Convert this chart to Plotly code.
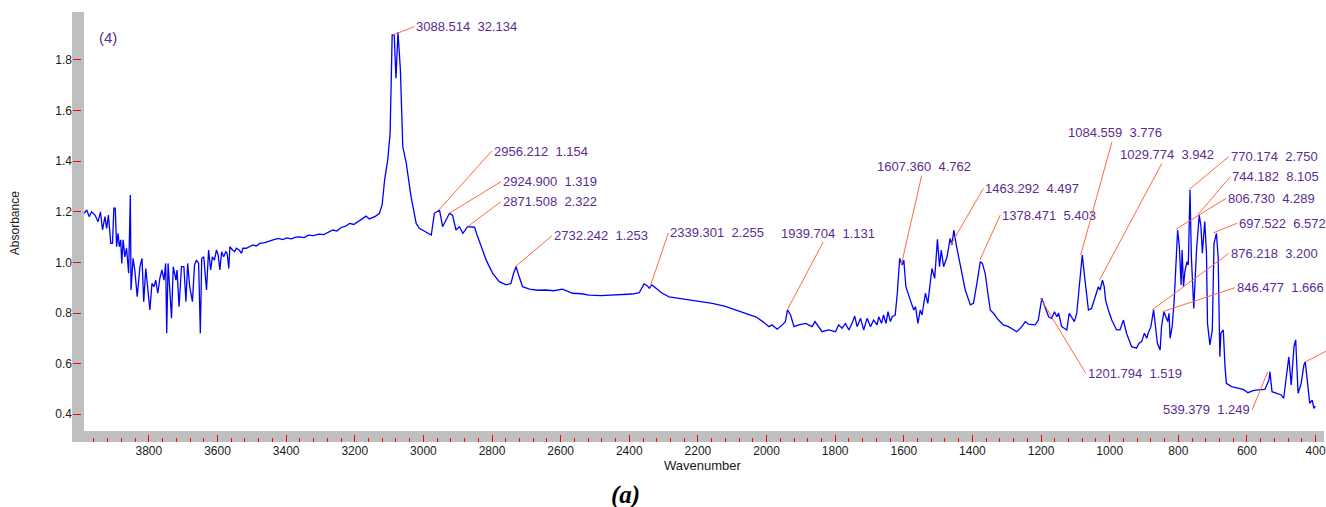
import plotly.graph_objects as go

# ---------------- data ----------------
wavenumber = [
    3989, 3981, 3974, 3967, 3957, 3948, 3941, 3935, 3928, 3923, 3918, 3911, 3906, 3902, 3898,
    3894, 3890, 3886, 3882, 3879, 3875, 3870, 3865, 3859, 3854, 3852, 3846, 3841, 3834, 3826,
    3820, 3815, 3809, 3803, 3797, 3791, 3785, 3780, 3774, 3768, 3762, 3756, 3751, 3748, 3744,
    3739, 3734, 3729, 3721, 3718, 3712, 3705, 3698, 3692, 3687, 3681, 3673, 3667, 3661, 3655,
    3650, 3646, 3640, 3632, 3626, 3620, 3615, 3609, 3603, 3598, 3593, 3588, 3582, 3576, 3572,
    3567, 3564, 3556, 3550, 3545, 3537, 3530, 3526, 3516, 3506, 3497, 3487, 3477, 3462, 3448,
    3438, 3422, 3410, 3398, 3385, 3372, 3361, 3348, 3335, 3320, 3305, 3290, 3275, 3264, 3252,
    3240, 3228, 3215, 3203, 3192, 3180, 3167, 3158, 3151, 3140, 3128, 3120, 3113, 3104, 3097,
    3091, 3085, 3080, 3074, 3067, 3060, 3050, 3036, 3021, 3012, 2992, 2977, 2968, 2961, 2953,
    2944, 2934, 2924, 2915, 2905, 2895, 2885, 2871, 2851, 2842, 2827, 2817, 2798, 2779, 2759,
    2745, 2737, 2730, 2721, 2711, 2691, 2667, 2643, 2620, 2595, 2565, 2540, 2517, 2483, 2449,
    2420, 2391, 2371, 2357, 2347, 2342, 2334, 2323, 2304, 2284, 2255, 2220, 2190, 2158, 2120,
    2090, 2061, 2030, 2010, 1993, 1984, 1969, 1954, 1945, 1939, 1930, 1920, 1906, 1886, 1867,
    1859, 1848, 1838, 1819, 1799, 1790, 1780, 1770, 1760, 1751, 1743, 1736, 1726, 1717, 1707,
    1697, 1688, 1678, 1673, 1665, 1659, 1652, 1646, 1639, 1634, 1625, 1619, 1612, 1605, 1600,
    1594, 1581, 1571, 1566, 1559, 1552, 1547, 1537, 1530, 1518, 1510, 1502, 1496, 1491, 1484,
    1474, 1465, 1460, 1454, 1448, 1440, 1431, 1421, 1406, 1397, 1387, 1377, 1371, 1363, 1355,
    1348, 1339, 1324, 1310, 1295, 1271, 1256, 1246, 1237, 1217, 1208, 1198, 1188, 1178, 1169,
    1161, 1154, 1149, 1140, 1125, 1118, 1111, 1103, 1096, 1086, 1080, 1072, 1062, 1053, 1043,
    1033, 1028, 1021, 1016, 1012, 1004, 994, 980, 970, 960, 951, 936, 922, 915, 907,
    899, 892, 888, 880, 872, 866, 861, 853, 849, 842, 836, 831, 827, 824, 818,
    812, 802, 797, 792, 789, 785, 781, 775, 771, 766, 762, 755, 747, 739, 734,
    730, 723, 718, 715, 708, 701, 696, 689, 684, 679, 676, 669, 664, 660, 645,
    626, 611, 597, 582, 568, 548, 536, 533, 527, 514, 500, 493, 485, 478, 471,
    463, 458, 451, 442, 434, 430, 424, 417, 410, 405, 401,
]
absorbance = [
    1.194, 1.207, 1.181, 1.200, 1.187, 1.161, 1.200, 1.128, 1.181, 1.134, 1.187, 1.075, 1.075, 1.214, 1.214,
    1.062, 1.115, 1.062, 1.089, 0.996, 1.089, 1.022, 1.056, 0.957, 1.266, 0.891, 1.016, 0.970, 0.864, 0.983,
    1.016, 0.845, 0.976, 0.904, 0.812, 0.917, 0.904, 0.930, 0.878, 0.937, 0.970, 0.930, 0.996, 0.720, 0.996,
    0.891, 0.779, 0.983, 0.930, 0.970, 0.825, 0.983, 0.983, 0.845, 0.996, 0.904, 0.845, 0.990, 1.009, 0.996,
    0.720, 1.016, 1.022, 0.891, 1.049, 0.970, 1.022, 1.009, 1.049, 1.029, 0.970, 1.042, 1.022, 1.042, 1.036,
    0.976, 1.062, 1.049, 1.042, 1.056, 1.049, 1.036, 1.056, 1.056, 1.062, 1.069, 1.065, 1.075, 1.078, 1.086,
    1.089, 1.095, 1.090, 1.097, 1.093, 1.100, 1.101, 1.098, 1.108, 1.106, 1.112, 1.110, 1.120, 1.128, 1.124,
    1.138, 1.142, 1.154, 1.150, 1.160, 1.168, 1.183, 1.172, 1.175, 1.182, 1.194, 1.230, 1.326, 1.405, 1.510,
    1.899, 1.899, 1.728, 1.910, 1.760, 1.457, 1.392, 1.260, 1.154, 1.135, 1.121, 1.108, 1.194, 1.200, 1.207,
    1.141, 1.168, 1.194, 1.187, 1.128, 1.141, 1.115, 1.141, 1.139, 1.102, 1.049, 1.009, 0.957, 0.924, 0.911,
    0.917, 0.957, 0.983, 0.944, 0.904, 0.894, 0.890, 0.891, 0.888, 0.894, 0.878, 0.876, 0.871, 0.869, 0.871,
    0.873, 0.875, 0.880, 0.915, 0.907, 0.898, 0.911, 0.898, 0.878, 0.864, 0.858, 0.852, 0.845, 0.838, 0.826,
    0.812, 0.799, 0.784, 0.765, 0.746, 0.753, 0.736, 0.753, 0.766, 0.812, 0.792, 0.746, 0.753, 0.759, 0.746,
    0.766, 0.746, 0.726, 0.733, 0.726, 0.753, 0.740, 0.759, 0.733, 0.759, 0.788, 0.746, 0.779, 0.733, 0.779,
    0.746, 0.772, 0.753, 0.785, 0.759, 0.792, 0.759, 0.805, 0.766, 0.785, 0.792, 0.878, 1.016, 0.990, 1.009,
    0.904, 0.851, 0.812, 0.825, 0.759, 0.812, 0.792, 0.878, 0.838, 0.976, 0.937, 1.091, 0.983, 1.049, 0.983,
    1.022, 1.095, 1.069, 1.128, 1.075, 1.022, 0.957, 0.891, 0.832, 0.838, 0.917, 1.003, 0.996, 0.957, 0.878,
    0.812, 0.799, 0.772, 0.753, 0.746, 0.726, 0.746, 0.766, 0.756, 0.753, 0.772, 0.858, 0.825, 0.785, 0.779,
    0.805, 0.785, 0.800, 0.746, 0.733, 0.799, 0.785, 0.766, 0.799, 0.957, 1.029, 0.930, 0.812, 0.818, 0.864,
    0.904, 0.891, 0.930, 0.904, 0.851, 0.812, 0.772, 0.733, 0.733, 0.772, 0.720, 0.667, 0.661, 0.680, 0.687,
    0.720, 0.700, 0.720, 0.746, 0.812, 0.746, 0.680, 0.654, 0.746, 0.805, 0.785, 0.766, 0.799, 0.700, 0.746,
    0.851, 1.128, 1.062, 0.911, 1.049, 0.904, 0.963, 1.003, 0.990, 1.286, 1.022, 0.818, 1.049, 1.187, 1.141,
    1.036, 1.161, 1.036, 0.759, 0.674, 0.733, 1.075, 1.115, 1.022, 0.627, 0.720, 0.733, 0.588, 0.522, 0.509,
    0.502, 0.498, 0.485, 0.493, 0.496, 0.498, 0.535, 0.568, 0.489, 0.483, 0.476, 0.463, 0.549, 0.627, 0.516,
    0.667, 0.694, 0.483, 0.522, 0.595, 0.607, 0.535, 0.443, 0.456, 0.423, 0.432,
]

# peak labels
peak_wn = [3088.514, 2956.212, 2924.900, 2871.508, 2732.242, 2339.301, 1939.704, 1607.360,
           1463.292, 1378.471, 1201.794, 1084.559, 1029.774, 876.218, 846.477, 806.730,
           770.174, 744.182, 697.522, 539.379]
peak_value = ["32.134", "1.154", "1.319", "2.322", "1.253", "2.255", "1.131", "4.762",
              "4.497", "5.403", "1.519", "3.776", "3.942", "3.200", "1.666", "4.289",
              "2.750", "8.105", "6.572", "1.249"]
peak_abs = [1.899, 1.205, 1.194, 1.141, 0.983, 0.904, 0.812, 0.990,
            1.069, 1.009, 0.858, 1.029, 0.930, 0.812, 0.805, 1.131,
            1.286, 1.187, 1.117, 0.568]

# label placement (layout only): tail x, tail y, anchor
label_ax = [3026, 2801, 2774, 2774, 2625, 2286, 1821, 1542,
            1368, 1319, 1070, 986, 834, 653, 635, 661,
            653, 648, 628, 585]
label_ay = [1.932, 1.440, 1.319, 1.240, 1.106, 1.117, 1.116, 1.378,
            1.293, 1.187, 0.562, 1.513, 1.427, 1.036, 0.900, 1.253,
            1.418, 1.339, 1.155, 0.417]
label_anchor = ["left", "left", "left", "left", "left", "left", "center", "center",
                "left", "left", "left", "center", "center", "left", "left", "left",
                "left", "left", "left", "right"]

y_ticks = [0.4, 0.6, 0.8, 1.0, 1.2, 1.4, 1.6, 1.8]

LABEL_COLOR = "#5B2C8F"
LINE_COLOR = "#FF6A3D"
FONT = "Liberation Sans, Arial, sans-serif"

fig = go.Figure()
fig.add_trace(go.Scatter(
    x=wavenumber, y=absorbance, mode="lines",
    line=dict(color="#0000FF", width=1.3),
    hoverinfo="x+y", showlegend=False,
))

annotations = []
NB = "\u00a0\u00a0"
for wn, val, ya, ax, ay, anc in zip(peak_wn, peak_value, peak_abs, label_ax, label_ay, label_anchor):
    annotations.append(dict(
        x=wn, y=ya, xref="x", yref="y",
        ax=ax, ay=ay, axref="x", ayref="y",
        text=f"{wn:.3f}{NB}{val}",
        showarrow=True, arrowhead=0, arrowwidth=1, arrowcolor=LINE_COLOR,
        standoff=0, startstandoff=0,
        xanchor=anc, yanchor="middle",
        font=dict(family=FONT, size=13, color=LABEL_COLOR),
    ))
# partially visible label line at the right edge (label text lies outside the picture)
annotations.append(dict(
    x=430, y=0.607, xref="x", yref="y", ax=368, ay=0.650, axref="x", ayref="y",
    text="\u00a0", showarrow=True, arrowhead=0, arrowwidth=1, arrowcolor=LINE_COLOR,
    standoff=0, xanchor="left", yanchor="middle",
    font=dict(family=FONT, size=13, color=LABEL_COLOR),
))
annotations += [
    dict(text="(4)", x=0.0199, y=0.940, xref="paper", yref="paper", showarrow=False,
         xanchor="left", yanchor="middle", font=dict(family=FONT, size=15, color=LABEL_COLOR)),
    dict(text="Absorbance", x=-0.0455, y=0.509, xref="paper", yref="paper", showarrow=False,
         textangle=-90, xanchor="center", yanchor="middle",
         font=dict(family=FONT, size=12, color="#1a1a1a")),
    dict(text="Wavenumber", x=0.5032, y=-0.0535, xref="paper", yref="paper", showarrow=False,
         xanchor="center", yanchor="middle", font=dict(family=FONT, size=13, color="#1a1a1a")),
    dict(text="<b><i>(a)</i></b>", x=0.4418, y=-0.1233, xref="paper", yref="paper", showarrow=False,
         xanchor="center", yanchor="middle",
         font=dict(family="Liberation Serif, Times New Roman, serif", size=25, color="#000000")),
]

X_DOM0 = 12 / 1254
Y_DOM0 = 11 / 430

fig.update_layout(
    width=1326, height=507,
    margin=dict(l=72, r=0, t=12, b=65, pad=0),
    paper_bgcolor="white", plot_bgcolor="white",
    font=dict(family=FONT, size=12, color="#1a1a1a"),
    showlegend=False,
    xaxis=dict(
        domain=[X_DOM0, 1], range=[3989.1, 375.5], anchor="free", position=0,
        showgrid=False, zeroline=False, showline=False,
        tickmode="linear", tick0=0, dtick=200,
        ticks="inside", ticklen=7, tickwidth=1, tickcolor="#FF0000",
        ticklabeloverflow="allow",
        tickfont=dict(family=FONT, size=12, color="#1a1a1a"),
        minor=dict(ticks="inside", tickmode="linear", tick0=0, dtick=40,
                   ticklen=4, tickwidth=1, tickcolor="#FF0000", showgrid=False),
    ),
    yaxis=dict(
        domain=[Y_DOM0, 1], range=[0.3336, 1.9897], anchor="free", position=0,
        showgrid=False, zeroline=False, showline=False,
        tickmode="array", tickvals=y_ticks, ticktext=[f"{v:.1f}" for v in y_ticks],
        ticks="inside", ticklen=8, tickwidth=1, tickcolor="#FF0000",
        tickfont=dict(family=FONT, size=12, color="#1a1a1a"),
    ),
    shapes=[
        dict(type="rect", xref="paper", yref="paper", x0=0, x1=X_DOM0, y0=0, y1=1,
             fillcolor="#C0C0C0", line=dict(width=0), layer="below"),
        dict(type="rect", xref="paper", yref="paper", x0=0, x1=1, y0=0, y1=Y_DOM0,
             fillcolor="#C0C0C0", line=dict(width=0), layer="below"),
    ],
    annotations=annotations,
)

fig.write_html("out.html")
